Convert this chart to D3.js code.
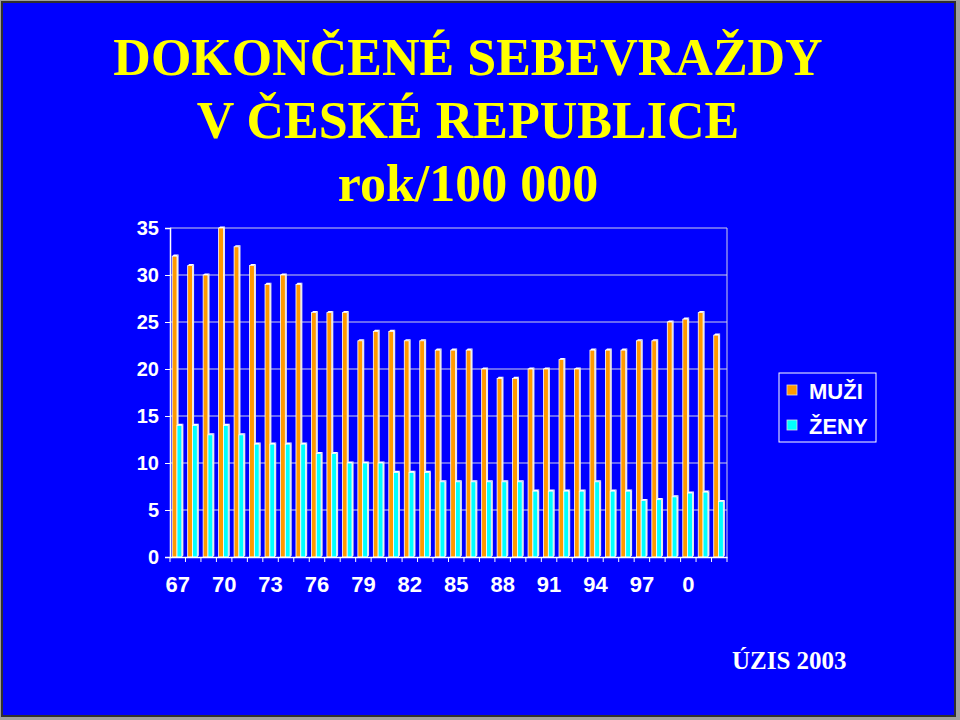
<!DOCTYPE html>
<html>
<head>
<meta charset="utf-8">
<script src="https://cdn.jsdelivr.net/npm/d3@7"></script>
<style>
  body { margin: 0; background: #a0a0a0; }
  svg { display: block; }
</style>
</head>
<body>
<svg id="chart" width="960" height="720"></svg>
<script>
const years = ['1967', '1968', '1969', '1970', '1971', '1972', '1973', '1974', '1975',
  '1976', '1977', '1978', '1979', '1980', '1981', '1982', '1983', '1984', '1985',
  '1986', '1987', '1988', '1989', '1990', '1991', '1992', '1993', '1994', '1995',
  '1996', '1997', '1998', '1999', '2000', '2001', '2002']

const muzi = [32, 31, 30, 35, 33, 31, 29, 30, 29, 26, 26, 26, 23, 24, 24, 23, 23, 22,
  22, 22, 20, 19, 19, 20, 20, 21, 20, 22, 22, 22, 23, 23, 25, 25.3, 26, 23.6]

const zeny = [14, 14, 13, 14, 13, 12, 12, 12, 12, 11, 11, 10, 10, 10, 9, 9, 9, 8,
  8, 8, 8, 8, 8, 7, 7, 7, 7, 8, 7, 7, 6, 6.1, 6.4, 6.8, 6.9, 5.9]

// only every third year gets a label
const xTickLabels = { 1967: '67', 1970: '70', 1973: '73', 1976: '76', 1979: '79', 1982: '82',
  1985: '85', 1988: '88', 1991: '91', 1994: '94', 1997: '97', 2000: '0' }

const yTicks = [0, 5, 10, 15, 20, 25, 30, 35]

const seriesNames = ['MUŽI', 'ŽENY']
const seriesColors = ['#ff9900', '#00ffff']

const titleLines = ['DOKONČENÉ SEBEVRAŽDY', 'V ČESKÉ REPUBLICE', 'rok/100 000']

const svg = d3.select('#chart')

// slide background with its dark frame
svg.append('rect')
  .attr('x', 2).attr('y', 2)
  .attr('width', 953).attr('height', 714)
  .attr('fill', '#0000ff')
  .attr('stroke', '#303030')
  .attr('stroke-width', 2)

// title
svg.append('g')
  .selectAll('text')
  .data(titleLines)
  .enter()
  .append('text')
  .attr('x', 468)
  .attr('y', (d, i) => 75 + i * 63)
  .attr('text-anchor', 'middle')
  .style('font-family', '"Liberation Serif", "Times New Roman", serif')
  .style('font-weight', 'bold')
  .style('font-size', '52px')
  .style('fill', '#ffff00')
  .text(d => d)

const plot = { left: 170, right: 727, top: 228, bottom: 557 }

const xScale = d3.scaleBand()
  .domain(years)
  .range([plot.left, plot.right])

const yScale = d3.scaleLinear()
  .domain([0, 35])
  .range([plot.bottom, plot.top])

const g = svg.append('g')

// gridlines
g.selectAll('.grid')
  .data(yTicks.filter(t => t > 0))
  .enter()
  .append('line')
  .attr('class', 'grid')
  .attr('x1', plot.left).attr('x2', plot.right)
  .attr('y1', d => yScale(d)).attr('y2', d => yScale(d))
  .style('stroke', '#d0d0e8')
  .style('stroke-width', 1)

// right edge of the plot area
g.append('line')
  .attr('x1', plot.right).attr('x2', plot.right)
  .attr('y1', plot.top).attr('y2', plot.bottom)
  .style('stroke', '#d0d0e8')

// bars, drawn as thin 3d columns
const barW = 4.8
const depth = 1.6
const offsets = [2.2, 7]

const series = [muzi, zeny]
series.forEach((values, s) => {
  const bars = g.append('g')
    .selectAll('g')
    .data(years.map((y, i) => ({ year: y, value: values[i] })))
    .enter()
    .append('g')

  const x0 = d => xScale(d.year) + offsets[s]

  // side face
  bars.append('polygon')
    .attr('points', d => {
      const x = x0(d) + barW
      const y = yScale(d.value)
      return [[x, y], [x + depth, y - depth], [x + depth, plot.bottom - depth], [x, plot.bottom]].join(' ')
    })
    .style('fill', '#e6e6e6')
  // top face
  bars.append('polygon')
    .attr('points', d => {
      const x = x0(d)
      const y = yScale(d.value)
      return [[x, y], [x + depth, y - depth], [x + barW + depth, y - depth], [x + barW, y]].join(' ')
    })
    .style('fill', '#ffffff')
  // front face
  bars.append('rect')
    .attr('x', x0)
    .attr('y', d => yScale(d.value))
    .attr('width', barW)
    .attr('height', d => plot.bottom - yScale(d.value))
    .style('fill', seriesColors[s])
    .style('stroke', '#ffffff')
    .style('stroke-width', 0.8)
})

// axes
const xAxis = d3.axisBottom(xScale)
  .tickValues(years)
  .tickSize(0)
  .tickPadding(19)
  .tickFormat(d => xTickLabels[d] || '')

const xg = svg.append('g')
  .attr('transform', 'translate(0,' + plot.bottom + ')')
  .call(xAxis)

xg.select('.domain').style('stroke', '#ffffff').style('stroke-width', 1.5)
xg.selectAll('text')
  .style('fill', '#ffffff')
  .style('font-family', '"Liberation Sans", Arial, sans-serif')
  .style('font-weight', 'bold')
  .style('font-size', '22px')

// x ticks sit on the band boundaries
xg.selectAll('.bound')
  .data(years.concat(['end']))
  .enter()
  .append('line')
  .attr('class', 'bound')
  .attr('x1', d => d === 'end' ? plot.right : xScale(d))
  .attr('x2', d => d === 'end' ? plot.right : xScale(d))
  .attr('y1', 0).attr('y2', 5)
  .style('stroke', '#ffffff')

const yAxis = d3.axisLeft(yScale)
  .tickValues(yTicks)
  .tickSize(5)
  .tickPadding(6)

const yg = svg.append('g')
  .attr('transform', 'translate(' + plot.left + ',0)')
  .call(yAxis)

yg.select('.domain').style('stroke', '#ffffff').style('stroke-width', 1.5)
yg.selectAll('.tick line').style('stroke', '#ffffff')
yg.selectAll('text')
  .style('fill', '#ffffff')
  .style('font-family', '"Liberation Sans", Arial, sans-serif')
  .style('font-weight', 'bold')
  .style('font-size', '20px')

// legend
const legend = svg.append('g')

legend.append('rect')
  .attr('x', 779).attr('y', 373)
  .attr('width', 97).attr('height', 69)
  .style('fill', 'none')
  .style('stroke', '#ffffff')

const items = legend.selectAll('.item')
  .data(seriesNames)
  .enter()
  .append('g')
  .attr('class', 'item')
  .attr('transform', (d, i) => 'translate(787,' + (385 + i * 35) + ')')

items.append('rect')
  .attr('width', 10).attr('height', 10)
  .style('fill', (d, i) => seriesColors[i])
  .style('stroke', '#dddddd')
  .style('stroke-width', 0.8)

items.append('text')
  .attr('x', 22)
  .attr('y', 14)
  .style('fill', '#ffffff')
  .style('font-family', '"Liberation Sans", Arial, sans-serif')
  .style('font-weight', 'bold')
  .style('font-size', '22px')
  .text(d => d)

// source note
svg.append('text')
  .attr('x', 732)
  .attr('y', 669)
  .style('fill', '#ffffff')
  .style('font-family', '"Liberation Serif", "Times New Roman", serif')
  .style('font-weight', 'bold')
  .style('font-size', '25px')
  .text('ÚZIS 2003')
</script>
</body>
</html>
